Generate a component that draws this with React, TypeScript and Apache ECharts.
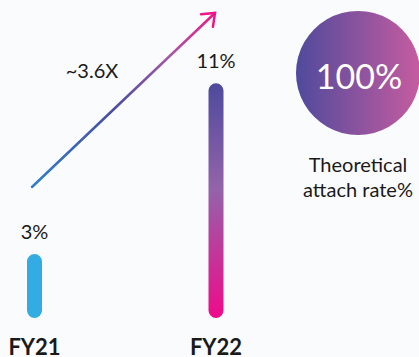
import React, { useEffect, useRef } from "react";
import * as echarts from "echarts";

// Attach rate by fiscal year
const categories = ["FY21", "FY22"];
const attachRate = [3, 11];
const growthLabel = "~3.6X";
const theoreticalRate = 100;
const theoreticalCaption = ["Theoretical", "attach rate%"];

const FONT = "Lato, 'Open Sans', sans-serif";

export default function App() {
  const ref = useRef<HTMLDivElement>(null);

  useEffect(() => {
    document.body.style.margin = "0";
    const chart = echarts.init(ref.current!, null, { renderer: "svg" });

    const barColors = [
      "#33ace3",
      new echarts.graphic.LinearGradient(0, 0, 0, 1, [
        { offset: 0, color: "#4e4a9c" },
        { offset: 0.45, color: "#9463aa" },
        { offset: 1, color: "#ef0a8a" },
      ]),
    ];

    // arrow geometry
    const ax0 = 32, ay0 = 187, ax1 = 215, ay1 = 13;
    const ang = Math.atan2(ay1 - ay0, ax1 - ax0);
    const headLen = 14;
    const spread = (38 * Math.PI) / 180;
    const h1 = [ax1 - headLen * Math.cos(ang - spread), ay1 - headLen * Math.sin(ang - spread)];
    const h2 = [ax1 - headLen * Math.cos(ang + spread), ay1 - headLen * Math.sin(ang + spread)];

    const cx = 358, cy = 73, r = 62;

    chart.setOption({
      animation: false,
      backgroundColor: "#fafbfd",
      grid: { left: 34.5, right: 203, top: 62, bottom: 37 },
      xAxis: {
        type: "category",
        data: categories,
        boundaryGap: false,
        axisLine: { show: false },
        axisTick: { show: false },
        axisLabel: {
          margin: 17,
          fontFamily: FONT,
          fontWeight: "bold",
          fontSize: 22,
          color: "#1a1a1a",
          verticalAlign: "top",
        },
      },
      yAxis: {
        type: "value",
        min: 0,
        max: 12,
        show: false,
      },
      series: [
        {
          type: "bar",
          clip: false,
          barWidth: 15,
          data: attachRate.map((v, i) => ({
            value: v,
            itemStyle: { color: barColors[i], borderRadius: 7.5 },
          })),
          label: {
            show: true,
            position: "top",
            distance: 13,
            formatter: "{c}%",
            fontFamily: FONT,
            fontSize: 20,
            color: "#1a1a1a",
          },
        },
      ],
      graphic: [
        {
          type: "line",
          shape: { x1: ax0, y1: ay0, x2: ax1, y2: ay1 },
          style: {
            lineWidth: 2.5,
            lineCap: "round",
            stroke: new echarts.graphic.LinearGradient(0, 1, 1, 0, [
              { offset: 0, color: "#2f80cc" },
              { offset: 0.45, color: "#4a4c9f" },
              { offset: 0.75, color: "#a45aa5" },
              { offset: 1, color: "#ef1489" },
            ]),
          },
        },
        {
          type: "polyline",
          shape: { points: [h1, [ax1, ay1], h2] },
          style: { stroke: "#ee1489", lineWidth: 2.5, lineCap: "round", lineJoin: "miter", fill: null },
        },
        {
          type: "text",
          x: 92,
          y: 70,
          style: {
            text: growthLabel,
            fontFamily: FONT,
            fontSize: 20,
            fill: "#1a1a1a",
            align: "center",
            verticalAlign: "middle",
          },
        },
        {
          type: "circle",
          shape: { cx, cy, r },
          style: {
            fill: new echarts.graphic.LinearGradient(0, 0, 1, 0, [
              { offset: 0, color: "#4f4a9c" },
              { offset: 1, color: "#c65ca0" },
            ]),
          },
        },
        {
          type: "text",
          x: cx + 1,
          y: cy + 2,
          style: {
            text: theoreticalRate + "%",
            fontFamily: FONT,
            fontSize: 34,
            fill: "#ffffff",
            align: "center",
            verticalAlign: "middle",
          },
        },
        {
          type: "text",
          x: cx,
          y: 176,
          style: {
            text: theoreticalCaption.join("\n"),
            fontFamily: FONT,
            fontSize: 20,
            lineHeight: 25,
            fill: "#1a1a1a",
            align: "center",
            verticalAlign: "middle",
          },
        },
      ],
    });

    return () => chart.dispose();
  }, []);

  return <div ref={ref} style={{ width: 419, height: 357 }} />;
}
